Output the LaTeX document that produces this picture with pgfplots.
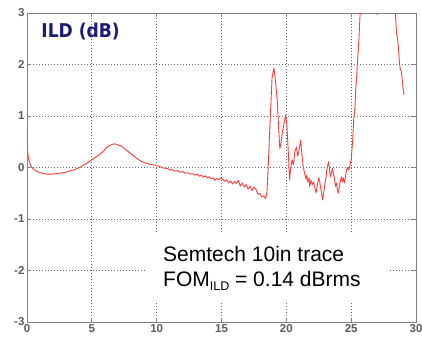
\documentclass[border=0pt]{standalone}
\usepackage{fontspec}
\setmainfont{Liberation Sans}
\newfontfamily\labelfont{DejaVu Sans}
\usepackage{pgfplots}
\pgfplotsset{compat=1.18}
\definecolor{ildred}{HTML}{FF3B3B}
\definecolor{ildnavy}{HTML}{1A1A78}
\definecolor{tickgray}{HTML}{5A5A5A}
\definecolor{framegray}{HTML}{808080}
\definecolor{gridgray}{HTML}{666666}
\begin{document}
\begin{tikzpicture}
\begin{axis}[
  scale only axis, width=389pt, height=309pt,
  xmin=0, xmax=30, ymin=-3, ymax=3,
  xtick={0,5,...,30}, ytick={-3,-2,...,3},
  grid=major,
  major grid style={color=gridgray, line width=0.9pt, dash pattern=on 1.1pt off 1.9pt},
  axis line style={framegray, line width=1pt},
  tick style={framegray, line width=1pt},
  major tick length=4pt, tick align=inside,
  ticklabel style={font=\bfseries\fontsize{11.5}{13}\selectfont, text=tickgray},
  xticklabel style={yshift=1pt},
  yticklabel style={xshift=1pt},
  /pgf/number format/assume math mode=true,
  clip=true,
]
% white panel behind the annotation
\fill[white] (axis cs:9.25,-1.25) rectangle (axis cs:28,-2.61);

\addplot[ildred, line width=0.9pt, line join=round] coordinates {
(0,0.83) (0.02,0.45) (0.05,0.3) (0.1,0.2) (0.2,0.1) (0.3,0.03) (0.45,-0.02)
(0.6,-0.05) (0.8,-0.08) (1.0,-0.1) (1.3,-0.12) (1.6,-0.13) (1.9,-0.13)
(2.2,-0.12) (2.6,-0.11) (3.0,-0.09) (3.4,-0.06) (3.8,-0.03) (4.2,0.02)
(4.6,0.08) (5.0,0.15) (5.3,0.2) (5.6,0.25) (5.9,0.32) (6.1,0.38) (6.3,0.42)
(6.5,0.44) (6.7,0.46) (6.9,0.45) (7.1,0.43) (7.3,0.41) (7.5,0.37) (7.7,0.33)
(7.9,0.29) (8.2,0.23) (8.5,0.17) (8.8,0.12) (9.1,0.09) (9.5,0.06) (10,0.04)
(10.5,-0.01) (10.8,-0.02) (11.0,-0.05) (11.2,-0.04) (11.4,-0.07) (11.6,-0.06)
(11.8,-0.09) (12.0,-0.08) (12.2,-0.11) (12.4,-0.10) (12.6,-0.13) (12.8,-0.12)
(13.0,-0.15) (13.15,-0.13) (13.3,-0.17) (13.45,-0.15) (13.6,-0.19) (13.75,-0.16)
(13.9,-0.2) (14.05,-0.18) (14.2,-0.22) (14.35,-0.2) (14.5,-0.25) (14.65,-0.21)
(14.8,-0.24) (14.95,-0.2) (15.1,-0.23) (15.25,-0.27) (15.4,-0.24) (15.55,-0.3)
(15.7,-0.26) (15.85,-0.32) (16.0,-0.27) (16.15,-0.31) (16.3,-0.25) (16.45,-0.36)
(16.6,-0.3) (16.75,-0.38) (16.9,-0.33) (17.05,-0.42) (17.2,-0.36) (17.35,-0.45)
(17.5,-0.38) (17.65,-0.42) (17.8,-0.52) (17.95,-0.5) (18.1,-0.57) (18.25,-0.55)
(18.4,-0.6) (18.5,-0.5) (18.6,0.0) (18.75,0.9) (18.9,1.75) (19.05,1.93)
(19.15,1.7) (19.3,1.3) (19.4,0.8) (19.5,0.36) (19.6,0.5) (19.7,0.7) (19.85,0.9)
(19.95,1.02) (20.05,0.8) (20.15,0.3) (20.25,-0.24) (20.35,0.02) (20.45,0.15)
(20.55,0.05) (20.65,0.3) (20.78,0.4) (20.88,0.22) (20.95,0.3) (21.05,0.45)
(21.1,0.53) (21.2,0.25) (21.3,0.02) (21.4,-0.1) (21.5,-0.22) (21.57,-0.15)
(21.65,-0.28) (21.75,-0.2) (21.8,-0.37) (21.9,-0.25) (22.0,-0.33) (22.1,-0.28)
(22.2,-0.4) (22.3,-0.49) (22.4,-0.32) (22.5,-0.2) (22.56,-0.25) (22.65,-0.4)
(22.72,-0.5) (22.8,-0.63) (22.9,-0.45) (22.98,-0.3) (23.05,-0.22) (23.12,-0.05)
(23.2,0.05) (23.26,0.11) (23.33,-0.05) (23.4,-0.18) (23.48,-0.1) (23.55,-0.02)
(23.62,-0.1) (23.7,-0.2) (23.8,-0.37) (23.88,-0.3) (23.95,-0.45) (24.02,-0.5)
(24.1,-0.35) (24.18,-0.25) (24.25,-0.18) (24.32,-0.28) (24.4,-0.2) (24.48,-0.3)
(24.55,-0.2) (24.62,-0.08) (24.7,0.0) (24.8,-0.05) (24.9,0.03) (25.0,0.15)
(25.06,0.34) (25.12,0.55) (25.2,0.95) (25.28,1.1) (25.35,1.5) (25.42,1.75)
(25.5,2.1) (25.6,2.5) (25.7,3.05) (25.8,3.6) (26.5,4.5) (26.9,3.4) (27.0,2.97)
(27.1,3.4) (28.0,4.0) (28.35,3.2) (28.42,2.95) (28.5,2.6) (28.58,2.5)
(28.65,2.3) (28.72,2.05) (28.78,1.92) (28.85,1.88) (28.92,1.75) (29.0,1.55)
(29.07,1.41)
};

\node[anchor=base west, text=ildnavy, inner sep=0pt, xscale=0.9,
      font=\labelfont\bfseries\fontsize{19}{22}\selectfont]
  at (axis cs:1.1,2.52) {ILD (dB)};
\node[anchor=base west, font=\fontsize{21}{25}\selectfont, inner sep=0pt]
  at (axis cs:10.49,-1.83) {Semtech 10in trace};
\node[anchor=base west, font=\fontsize{21}{25}\selectfont, inner sep=0pt]
  at (axis cs:10.49,-2.31) {FOM\raisebox{-0.35ex}{\fontsize{12.5}{13}\selectfont ILD} = 0.14 dBrms};
\end{axis}
\pgfresetboundingbox
\path ([shift={(-27pt,-19pt)}]current axis.south west) rectangle ([shift={(6pt,13pt)}]current axis.north east);
\end{tikzpicture}
\end{document}
